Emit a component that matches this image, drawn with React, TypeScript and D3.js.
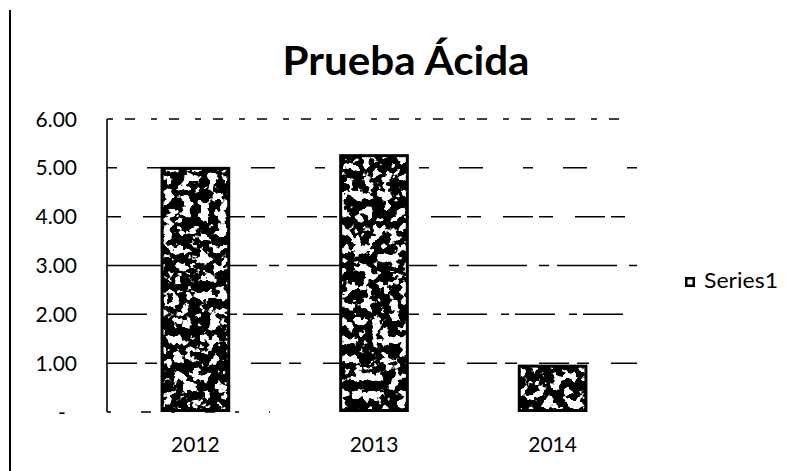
import React from "react";
import * as d3 from "d3";

const categories = ["2012", "2013", "2014"];
const values = [5.02, 5.28, 0.97];
const yTicks = [0, 1, 2, 3, 4, 5, 6];
const yTickLabels = ["-", "1.00", "2.00", "3.00", "4.00", "5.00", "6.00"];
const seriesName = "Series1";
const title = "Prueba Ácida";

export default function App() {
  const W = 791, H = 471;
  const left = 107, right = 641, top = 119, bottom = 412;
  const x = d3.scaleBand().domain(categories).range([left, right]).paddingInner(0.61).paddingOuter(0.3);
  const y = d3.scaleLinear().domain([0, 6]).range([bottom, top]);
  const font = "Lato, 'Open Sans', sans-serif";
  const dashes = ["20 10 6 14", "30 8 12 22", "40 14 8 6", "60 12 10 8", "14 22 30 6", "10 30 24 40", "6 12 10 16"];
  return (
    <div style={{ position: "absolute", left: 0, top: 0 }}>
      <svg width={W} height={H} style={{ display: "block", background: "#fff" }}>
        <defs>
          <filter id="speckle" x="0" y="0" width="1" height="1">
            <feTurbulence type="fractalNoise" baseFrequency="0.11" numOctaves="3" seed="11" result="n" />
            <feColorMatrix in="n" type="matrix" values="0 0 0 0 1  0 0 0 0 1  0 0 0 0 1  20 0 0 0 -10.6" result="w" />
            <feComposite in="w" in2="SourceGraphic" operator="in" />
          </filter>
        </defs>
        <line x1={10} x2={10} y1={10} y2={H} stroke="#000" strokeWidth={2} />
        <text x={406} y={75} textAnchor="middle" fontFamily={font} fontWeight="bold" fontSize={41} textLength={247} lengthAdjust="spacingAndGlyphs" fill="#000">{title}</text>
        {yTicks.map((t, i) => (
          <g key={t}>
            {t > 0 && (
              <line x1={left} x2={t === 6 ? 625 : 637} y1={y(t)} y2={y(t)} stroke="#000" strokeWidth={1.5} strokeDasharray={dashes[i]} />
            )}
            <text x={t === 0 ? 62 : 77} y={y(t)} dy="0.36em" textAnchor={t === 0 ? "middle" : "end"} fontFamily={font} fontSize={21} fill="#000">{yTickLabels[i]}</text>
          </g>
        ))}
        <line x1={left} x2={270} y1={bottom} y2={bottom} stroke="#000" strokeWidth={1.4} strokeDasharray="4 30 10 20" />
        <line x1={left} x2={left} y1={top} y2={bottom} stroke="#000" strokeWidth={1.6} />
        {categories.map((c, i) => (
          <g key={c}>
            <rect x={x(c)!} y={y(values[i])} width={x.bandwidth()} height={bottom - y(values[i])} fill="#000" />
            <rect x={x(c)! + 3} y={y(values[i]) + 3} width={x.bandwidth() - 6} height={bottom - y(values[i]) - 6} fill="#fff" filter="url(#speckle)" />
            <text x={x(c)! + x.bandwidth() / 2} y={452} textAnchor="middle" fontFamily={font} fontSize={21} fill="#000">{c}</text>
          </g>
        ))}
        <rect x={685} y={277} width={10} height={10} fill="#000" />
        <rect x={687.5} y={279.5} width={5} height={5} fill="#fff" />
        <text x={704} y={288} fontFamily={font} fontSize={22} textLength={74} lengthAdjust="spacingAndGlyphs" fill="#000">{seriesName}</text>
      </svg>
    </div>
  );
}
